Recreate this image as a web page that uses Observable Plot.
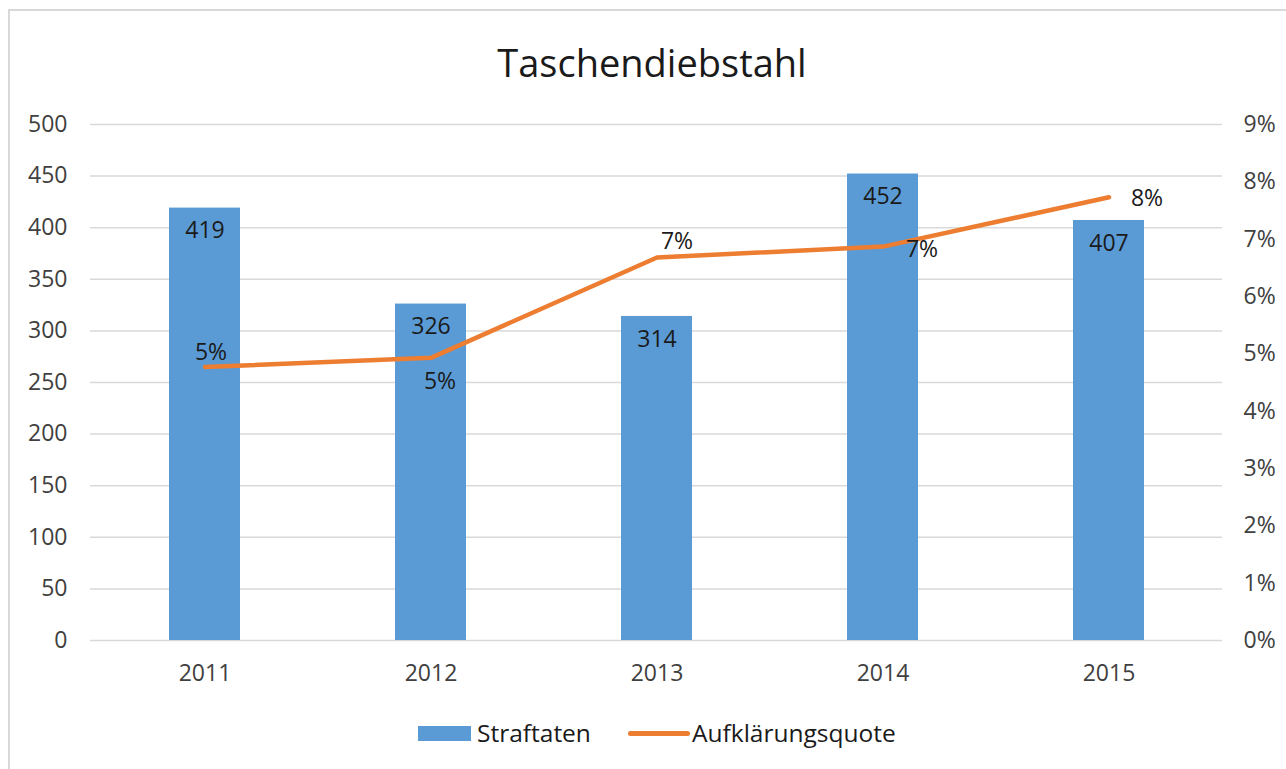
<!DOCTYPE html>
<html>
<head>
<meta charset="utf-8">
<script src="https://cdn.jsdelivr.net/npm/d3@7"></script>
<script src="https://cdn.jsdelivr.net/npm/@observablehq/plot@0.6"></script>
<style>
  html, body { margin: 0; padding: 0; background: #fff; width: 1286px; height: 769px; overflow: hidden; font-family: "Open Sans", sans-serif; }
  #frame { position: absolute; left: 8px; top: 9px; width: 1300px; height: 800px; border: 2px solid #d9d9d9; box-sizing: border-box; }
  #title { position: absolute; left: 0; width: 1304px; top: 39px; text-align: center; font-size: 38px; line-height: 46px; color: #1a1a1a; }
  #chart { position: absolute; left: 0; top: 0; }
  #legend { position: absolute; top: 718px; left: 0; width: 1286px; height: 30px; font-size: 24.5px; color: #1a1a1a; }
  .sw { position: absolute; }
  .lt { position: absolute; line-height: 30px; top: 0; }
</style>
</head>
<body>
<div id="frame"></div>
<div id="title">Taschendiebstahl</div>
<div id="chart"></div>
<div id="legend">
  <span class="sw" style="left:418px;top:8px;width:53px;height:15px;background:#5b9bd5"></span>
  <span class="lt" style="left:477px">Straftaten</span>
  <span class="sw" style="left:628px;top:13px;width:62px;height:5px;border-radius:3px;background:#ed7d31"></span>
  <span class="lt" style="left:692px">Aufklärungsquote</span>
</div>
<script>
const years = ["2011", "2012", "2013", "2014", "2015"];
const straftaten = [419, 326, 314, 452, 407];
const quote = [4.77, 4.93, 6.68, 6.87, 7.73]; // Aufklärungsquote in %
const leftTicks = [0, 50, 100, 150, 200, 250, 300, 350, 400, 450, 500];
const rightTicks = [0, 1, 2, 3, 4, 5, 6, 7, 8, 9]; // %

const leftMax = 500, rightMax = 9;
const toLeft = p => p * leftMax / rightMax;

const data = years.map((year, i) => ({ year, n: straftaten[i], q: quote[i], qy: toLeft(quote[i]), i }));

// label placement for the percentage labels (style only)
const pctPlacement = [
  { dx: 6, dy: -14 },
  { dx: 9, dy: 24 },
  { dx: 20, dy: -16 },
  { dx: 39, dy: 3 },
  { dx: 38, dy: 1 }
];

const textColor = "#1a1a1a";
const tickColor = "#404040";
const fs = 23;

const chart = Plot.plot({
  width: 1286,
  height: 700,
  marginTop: 124,
  marginBottom: 60,
  marginLeft: 90,
  marginRight: 64,
  style: { fontFamily: "Open Sans, sans-serif", fontSize: fs + "px", color: tickColor, background: "transparent" },
  x: { domain: years, paddingInner: 0.686, paddingOuter: 0.343, label: null },
  y: { domain: [0, leftMax], label: null },
  marks: [
    Plot.gridY(leftTicks, { stroke: "#d9d9d9", strokeOpacity: 1, strokeWidth: 1.5 }),
    Plot.barY(data, { x: "year", y: "n", fill: "#5b9bd5" }),
    Plot.line(data, { x: "year", y: "qy", stroke: "#ed7d31", strokeWidth: 4.5, strokeLinecap: "round", strokeLinejoin: "round" }),
    Plot.text(data, { x: "year", y: "n", text: d => String(d.n), dy: 23, fill: textColor, fontSize: fs }),
    ...pctPlacement.map((p, i) => Plot.text(data.filter(d => d.i === i), {
      x: "year", y: "qy", text: d => Math.round(d.q) + "%", dx: p.dx, dy: p.dy, fill: textColor, fontSize: fs
    })),
    Plot.axisY(leftTicks, { anchor: "left", tickSize: 0, tickPadding: 23, fill: tickColor, fontSize: fs, label: null }),
    Plot.axisY(rightTicks.map(toLeft), { anchor: "right", tickSize: 0, tickPadding: 21, fill: tickColor, fontSize: fs, label: null,
      tickFormat: v => Math.round(v * rightMax / leftMax) + "%" }),
    Plot.axisX({ tickSize: 0, tickPadding: 24, fill: tickColor, fontSize: fs, label: null })
  ]
});
document.getElementById("chart").appendChild(chart);
</script>
</body>
</html>
